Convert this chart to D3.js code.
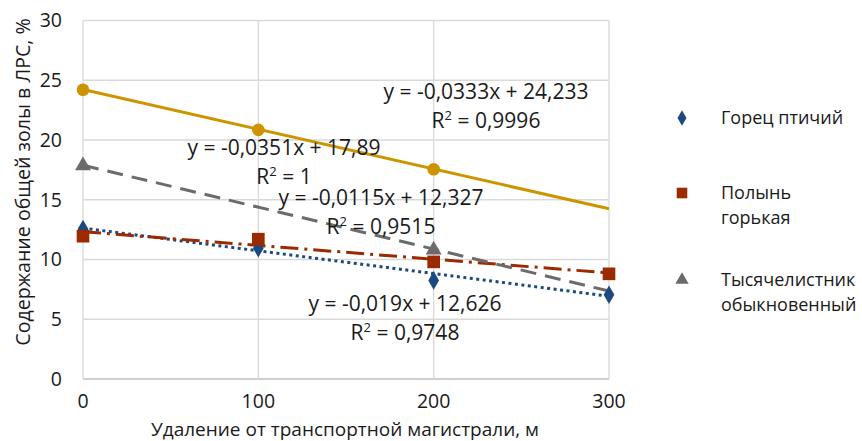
<!DOCTYPE html>
<html>
<head>
<meta charset="utf-8">
<script src="https://cdn.jsdelivr.net/npm/d3@7"></script>
<style>
  body { margin: 0; background: #fff; }
  text { font-family: "Open Sans", "Noto Sans", sans-serif; fill: #1a1a1a; }
</style>
</head>
<body>
<script>
const width = 862;
const height = 441;

// distances, m
const distances = [0, 100, 200, 300];
const gorets = [12.55, 10.95, 8.25, 7.05];
const polyn = [11.95, 11.7, 9.8, 8.8];
const tysyach = [17.85, null, 10.8, null];
const series4 = [24.2, 20.85, 17.55, null];

// trend lines (slope, intercept) and their labels
const trendSlopes = [-0.019, -0.0115, -0.0351, -0.0333];
const trendIntercepts = [12.626, 12.327, 17.89, 24.233];
const trendEq = ['y = -0,019x + 12,626', 'y = -0,0115x + 12,327', 'y = -0,0351x + 17,89', 'y = -0,0333x + 24,233'];
const trendR2 = ['0,9748', '0,9515', '1', '0,9996'];

const yTicks = [0, 5, 10, 15, 20, 25, 30];
const xTicks = [0, 100, 200, 300];

const legendLines = [['Горец птичий'], ['Полынь', 'горькая'], ['Тысячелистник', 'обыкновенный']];

const colors = ['#1c4a80', '#9c2a00', '#6b6b6b', '#cc9500'];
const dashes = ['3,3.5', '18,6,3,6', '16,9', null];
const symbols = [d3.symbolDiamond, d3.symbolSquare, d3.symbolTriangle, d3.symbolCircle];
const symSizes = [100, 160, 110, 125];
const values = [gorets, polyn, tysyach, series4];

// label positions (center x, eq baseline y) in pixels
const labelPos = [[405, 311], [381, 205], [284, 155], [486, 99]];

const svg = d3.select('body')
  .append('svg')
  .attr('width', width)
  .attr('height', height);

const x = d3.scaleLinear().domain([0, 300]).range([83, 609]);
const y = d3.scaleLinear().domain([0, 30]).range([379, 20.5]);

// grid
svg.append('g')
  .selectAll('line')
  .data(yTicks)
  .join('line')
  .attr('x1', x(0)).attr('x2', x(300))
  .attr('y1', d => y(d)).attr('y2', d => y(d))
  .attr('stroke', d => d === 0 ? '#bfbfbf' : '#d9d9d9')
  .attr('stroke-width', 1.3);

svg.append('g')
  .selectAll('line')
  .data(xTicks)
  .join('line')
  .attr('x1', d => x(d)).attr('x2', d => x(d))
  .attr('y1', y(0)).attr('y2', y(30))
  .attr('stroke', '#d9d9d9')
  .attr('stroke-width', 1.3);

// tick labels
svg.append('g')
  .selectAll('text')
  .data(yTicks)
  .join('text')
  .attr('x', 62)
  .attr('y', d => y(d))
  .attr('dy', '0.35em')
  .attr('text-anchor', 'end')
  .style('font-size', '19.5px')
  .text(d => d);

svg.append('g')
  .selectAll('text')
  .data(xTicks)
  .join('text')
  .attr('x', d => x(d))
  .attr('y', 408)
  .attr('text-anchor', 'middle')
  .style('font-size', '19.5px')
  .text(d => d);

// axis titles
svg.append('text')
  .attr('x', 345)
  .attr('y', 436)
  .attr('text-anchor', 'middle')
  .style('font-size', '19px')
  .text('Удаление от транспортной магистрали, м');

svg.append('text')
  .attr('transform', 'translate(30,182) rotate(-90)')
  .attr('text-anchor', 'middle')
  .style('font-size', '19.6px')
  .text('Содержание общей золы в ЛРС, %');

// trend lines
const line = d3.line().x(d => x(d[0])).y(d => y(d[1]));
trendSlopes.forEach((k, i) => {
  const pts = [0, 300].map(d => [d, trendIntercepts[i] + k * d]);
  svg.append('path')
    .attr('d', line(pts))
    .attr('fill', 'none')
    .attr('stroke', colors[i])
    .attr('stroke-width', 3)
    .attr('stroke-dasharray', dashes[i]);
});

// markers
values.forEach((vals, i) => {
  svg.append('g')
    .selectAll('path')
    .data(distances.map((d, j) => [d, vals[j]]).filter(d => d[1] != null))
    .join('path')
    .attr('transform', d => `translate(${x(d[0])},${y(d[1])})`)
    .attr('d', d3.symbol().type(symbols[i]).size(symSizes[i]))
    .attr('fill', colors[i]);
});

// trend labels
labelPos.forEach((p, i) => {
  svg.append('text')
    .attr('x', p[0])
    .attr('y', p[1])
    .attr('text-anchor', 'middle')
    .style('font-size', '21px')
    .text(trendEq[i]);
  const r = svg.append('text')
    .attr('x', p[0])
    .attr('y', p[1] + 29)
    .attr('text-anchor', 'middle')
    .style('font-size', '21px');
  r.append('tspan').text('R');
  r.append('tspan').attr('dy', -8).style('font-size', '13px').text('2');
  r.append('tspan').attr('dy', 8).text(' = ' + trendR2[i]);
});

// legend
const legendY = [118, 193, 280];
legendLines.forEach((lines, i) => {
  svg.append('path')
    .attr('transform', `translate(682,${legendY[i]})`)
    .attr('d', d3.symbol().type(symbols[i]).size(symSizes[i] * 0.7))
    .attr('fill', colors[i]);
  const t = svg.append('text')
    .attr('y', legendY[i])
    .style('font-size', '18px');
  lines.forEach((l, k) => {
    t.append('tspan').attr('x', 721).attr('dy', k === 0 ? '0.35em' : 25).text(l);
  });
});
</script>
</body>
</html>
